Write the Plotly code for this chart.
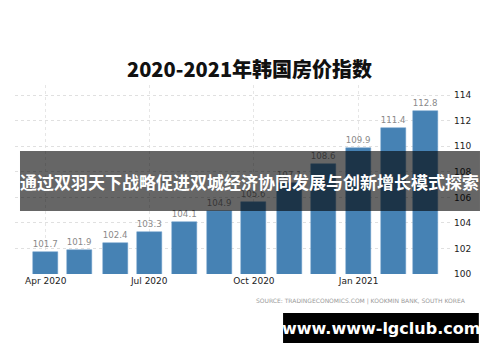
import plotly.graph_objects as go

months = ["2020-04-01", "2020-05-01", "2020-06-01", "2020-07-01", "2020-08-01", "2020-09-01",
          "2020-10-01", "2020-11-01", "2020-12-01", "2021-01-01", "2021-02-01", "2021-03-01"]
index_values = [101.7, 101.9, 102.4, 103.3, 104.1, 104.9, 105.6, 107.1, 108.6, 109.9, 111.4, 112.8]
y_ticks = [100, 102, 104, 106, 108, 110, 112, 114]

title_text = "2020-2021年韩国房价指数"
banner_text = "通过双羽天下战略促进双城经济协同发展与创新增长模式探索"
source_text = "SOURCE: TRADINGECONOMICS.COM | KOOKMIN BANK, SOUTH KOREA"
site_text = "www.www-lgclub.com"

fig = go.Figure()
fig.add_trace(go.Bar(
    x=months, y=index_values,
    width=22 * 86400000,
    marker=dict(color="#4682B4", line=dict(color="#6a9ccb", width=0.5)),
    text=[f"{v:.1f}" for v in index_values],
    textposition="outside",
    textfont=dict(size=9, color="#8a8a8a", family="DejaVu Sans"),
    cliponaxis=False,
))

fig.update_layout(
    width=492, height=354,
    margin=dict(l=7, r=47, t=77, b=88),
    paper_bgcolor="white", plot_bgcolor="white",
    showlegend=False,
    bargap=0,
    xaxis=dict(
        type="date",
        range=["2020-03-05", "2021-03-25"],
        tick0="2020-04-01", dtick="M3", tickformat="%b %Y",
        showgrid=True, gridcolor="#e6e6e6", griddash="dot", gridwidth=1,
        tickfont=dict(size=9, color="#222222", family="DejaVu Sans"),
        ticks="", zeroline=False, showline=False,
    ),
    yaxis=dict(
        side="right",
        range=[100, 114.8],
        tickvals=y_ticks,
        showgrid=True, gridcolor="#e0e0e0", griddash="dot", gridwidth=1,
        tickfont=dict(size=9, color="#222222", family="DejaVu Sans"),
        ticks="", zeroline=False, showline=False,
    ),
    font=dict(family="DejaVu Sans"),
)

fig.add_annotation(
    text=title_text, xref="paper", yref="paper", x=0.5365, y=1.085,
    xanchor="center", yanchor="middle", showarrow=False,
    font=dict(size=20, color="#111111", family="Noto Sans CJK SC", weight=900),
)

fig.add_shape(type="rect", xref="paper", yref="paper",
              x0=0.0114, x1=1.0616, y0=0.333, y1=0.651,
              fillcolor="rgba(0,0,0,0.6)", line=dict(width=0), layer="above")
fig.add_annotation(
    text=banner_text, xref="paper", yref="paper", x=0.5365, y=0.492,
    xanchor="center", yanchor="middle", showarrow=False,
    font=dict(size=17, color="white", family="Noto Sans CJK SC", weight="bold"),
)

fig.add_annotation(
    text=source_text, xref="paper", yref="paper", x=1.034, y=-0.143,
    xanchor="right", yanchor="middle", showarrow=False,
    font=dict(size=6, color="#9a9a9a", family="DejaVu Sans"),
)

fig.add_shape(type="rect", xref="paper", yref="paper",
              x0=0.612, x1=1.059, y0=-0.365, y1=-0.206,
              fillcolor="black", line=dict(width=0), layer="above")
fig.add_annotation(
    text=site_text, xref="paper", yref="paper", x=0.836, y=-0.286,
    xanchor="center", yanchor="middle", showarrow=False,
    font=dict(size=16, color="white", family="DejaVu Sans", weight="bold"),
)

fig.write_html("out.html")
